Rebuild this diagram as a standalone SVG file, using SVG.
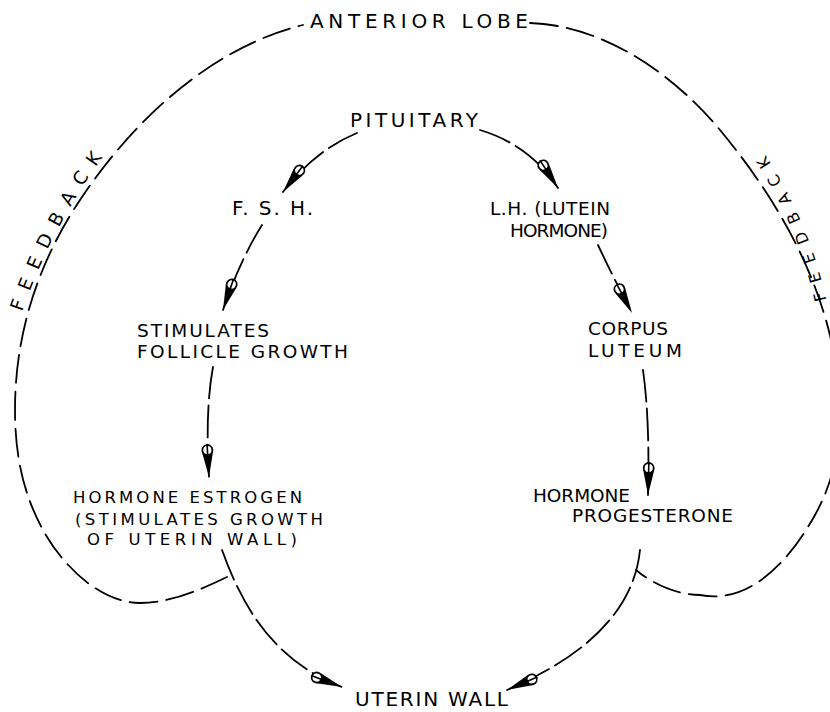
<svg xmlns="http://www.w3.org/2000/svg" width="830" height="712" viewBox="0 0 830 712">
<style>
text{font-family:"DejaVu Sans","Liberation Sans",sans-serif;fill:#000;}
.lg{font-size:20px;}
.md{font-size:18.5px;}
.sm{font-size:16.5px;}
.fb{font-size:16px;}
.loop{fill:none;stroke:#000;stroke-width:1.8;stroke-dasharray:28 9;stroke-linecap:round;}
.flow{fill:none;stroke:#000;stroke-width:1.8;stroke-dasharray:32 7;stroke-linecap:round;}
</style>
<defs>
<marker id="arr" markerUnits="userSpaceOnUse" markerWidth="44" markerHeight="18" viewBox="-36 -9 44 18" refX="0" refY="0" orient="auto" overflow="visible">
<path d="M-25,-5.5 L0,0 L-25,5.5 Z" fill="#000"/>
<circle cx="-27" cy="0" r="5" fill="#fff" stroke="#000" stroke-width="1.8"/>
<line x1="-33" y1="0" x2="-21" y2="0" stroke="#000" stroke-width="1.6"/>
</marker>
<path id="fbL" d="M22,312 Q52,225 108,150"/>
<path id="fbR" d="M827,302 Q808,218 762,150"/>
</defs>

<g id="connectors">
<path class="loop" d="M227,577 C200,590 170,603 140,603 C100,603 62,565 43,530 C25,497 15,460 15,410 C15,330 40,260 80,200 C140,110 220,45 303,25"/>
<path class="loop" d="M530,23 C600,25 670,70 720,130 C770,190 820,270 835,360 C845,420 840,470 815,515 C790,560 750,605 700,595 C675,595 650,582 636,570"/>
<path class="flow" marker-end="url(#arr)" d="M357,133 Q315,150 283,192"/>
<path class="flow" marker-end="url(#arr)" d="M480,130 Q530,145 558,188"/>
<path class="flow" marker-end="url(#arr)" d="M262,225 Q240,260 223,310"/>
<path class="flow" marker-end="url(#arr)" d="M213,367 Q205,410 209,477"/>
<path class="flow" marker-end="url(#arr)" d="M598,245 Q612,275 632,313"/>
<path class="flow" marker-end="url(#arr)" d="M643,370 Q650,420 648,495"/>
<path class="flow" marker-end="url(#arr)" d="M222,550 C240,600 270,660 342,687"/>
<path class="flow" marker-end="url(#arr)" d="M640,550 C635,600 600,650 507,690"/>
</g>

<g id="n-anterior"><text class="lg" x="310" y="28" textLength="218" lengthAdjust="spacing">ANTERIOR LOBE</text></g>
<g id="n-pituitary"><text class="lg" x="350" y="127" textLength="128" lengthAdjust="spacing">PITUITARY</text></g>
<g id="n-fsh"><text class="lg" x="232" y="215" textLength="81" lengthAdjust="spacing">F. S. H.</text></g>
<g id="n-lh">
<text class="md" x="490" y="215" textLength="120" lengthAdjust="spacing">L.H. (LUTEIN</text>
<text class="md" x="510" y="237" textLength="98" lengthAdjust="spacing">HORMONE)</text>
</g>
<g id="n-stim">
<text class="md" x="137" y="337" textLength="132" lengthAdjust="spacing">STIMULATES</text>
<text class="md" x="137" y="358" textLength="211" lengthAdjust="spacing">FOLLICLE GROWTH</text>
</g>
<g id="n-corpus">
<text class="md" x="588" y="335" textLength="80" lengthAdjust="spacing">CORPUS</text>
<text class="md" x="588" y="357" textLength="94" lengthAdjust="spacing">LUTEUM</text>
</g>
<g id="n-estrogen">
<text class="sm" x="73" y="503" textLength="229" lengthAdjust="spacing">HORMONE ESTROGEN</text>
<text class="sm" x="75" y="525" textLength="248" lengthAdjust="spacing">(STIMULATES GROWTH</text>
<text class="sm" x="87" y="545" textLength="210" lengthAdjust="spacing">OF UTERIN WALL)</text>
</g>
<g id="n-progesterone">
<text class="md" x="533" y="502" textLength="97" lengthAdjust="spacing">HORMONE</text>
<text class="md" x="572" y="522" textLength="161" lengthAdjust="spacing">PROGESTERONE</text>
</g>
<g id="n-uterin"><text class="lg" x="355" y="706" textLength="153" lengthAdjust="spacing">UTERIN WALL</text></g>
<g id="n-feedback-left"><text class="md"><textPath href="#fbL" textLength="175" lengthAdjust="spacing">FEEDBACK</textPath></text></g>
<g id="n-feedback-right"><text class="fb"><textPath href="#fbR" startOffset="2" textLength="158" lengthAdjust="spacing">FEEDBACK</textPath></text></g>
</svg>
